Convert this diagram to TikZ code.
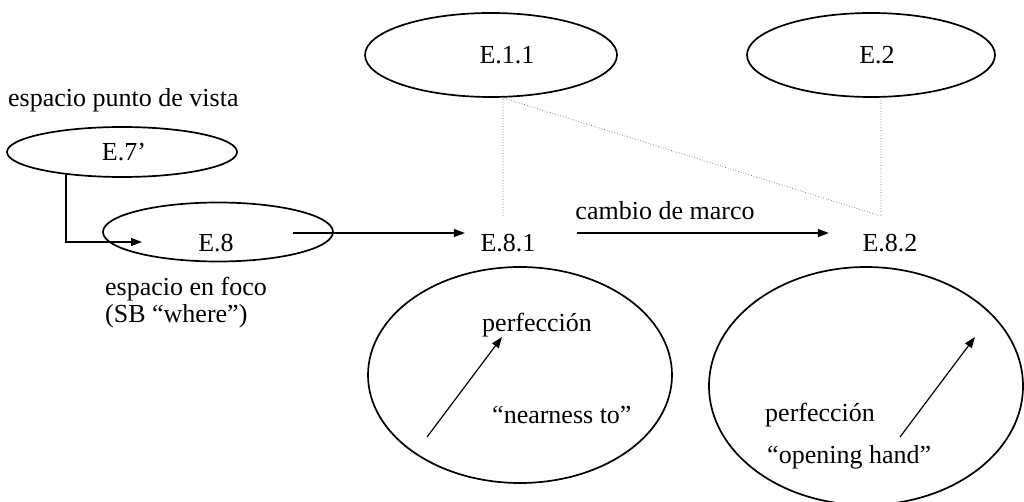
\documentclass[tikz,border=0pt]{standalone}
\usepackage{fontspec}
\setmainfont{Liberation Serif}
\usetikzlibrary{arrows.meta,shapes.geometric}

\begin{document}
\begin{tikzpicture}[x=1pt, y=-1pt,
  font=\fontsize{26}{27}\selectfont,
  oval/.style={draw, ellipse, line width=1.7pt, inner sep=0pt},
  lbl/.style={inner sep=0pt},
  arr/.style={-{Triangle[length=11pt,width=8pt]}, line width=1.2pt},
  dots/.style={dotted, black!60, line width=0.7pt}]
\useasboundingbox (0,0) rectangle (1024,502);
\node[oval, minimum width=230, minimum height=50] (e7) at (122,152) {};
\node[oval, minimum width=230, minimum height=59] (e8) at (218,232) {};
\node[oval, minimum width=252, minimum height=84] (e11) at (491,55) {};
\node[oval, minimum width=248, minimum height=84] (e2) at (871,55) {};
\node[oval, minimum width=304, minimum height=216] (b1) at (520,375) {};
\node[oval, minimum width=314, minimum height=238] (b2) at (866,386) {};
\node[lbl] (t7) at (124,152) {E.7’};
\node[lbl] (t8) at (216,243) {E.8};
\node[lbl] (t11) at (507,55) {E.1.1};
\node[lbl] (t2) at (877,55) {E.2};
\node[lbl] (t81) at (508,243) {E.8.1};
\node[lbl] (t82) at (890,243) {E.8.2};
\node[lbl, anchor=west] (vista) at (8,100) {espacio punto de vista};
\node[lbl, anchor=west, align=left] (foco) at (105,303) {espacio en foco\\(SB “where”)};
\node[lbl] (marco) at (665,211) {cambio de marco};
\node[lbl, anchor=west] (p1) at (482,325) {perfección};
\node[lbl, anchor=west] (n1) at (492,415) {“nearness to”};
\node[lbl, anchor=west] (p2) at (765,415) {perfección};
\node[lbl, anchor=west] (h2) at (767,457) {“opening hand”};
\coordinate (e8in) at (142,242);
\coordinate (e8out) at (293,233);
\coordinate (d1) at (503,216);
\coordinate (d2) at (881,216);
\coordinate (a1) at (427,437);
\coordinate (a2) at (502,337);
\coordinate (a3) at (900,437);
\coordinate (a4) at (975,337);
\draw[arr] (e7.202) |- (e8in);
\draw[arr, shorten >=15.5pt] (e8out) -- (e8out -| t81.west);
\draw[arr, shorten <=41.5pt, shorten >=33.5pt] ([yshift=10pt]t81.east) -- ([yshift=10pt]t82.west);
\foreach \a/\b in {a1/a2, a3/a4}
  \draw[arr] (\a) -- (\b);
\draw[dots] (d1) -- (d1 |- e11.south) -- (d2) -- (d2 |- e2.south);
\end{tikzpicture}
\end{document}
